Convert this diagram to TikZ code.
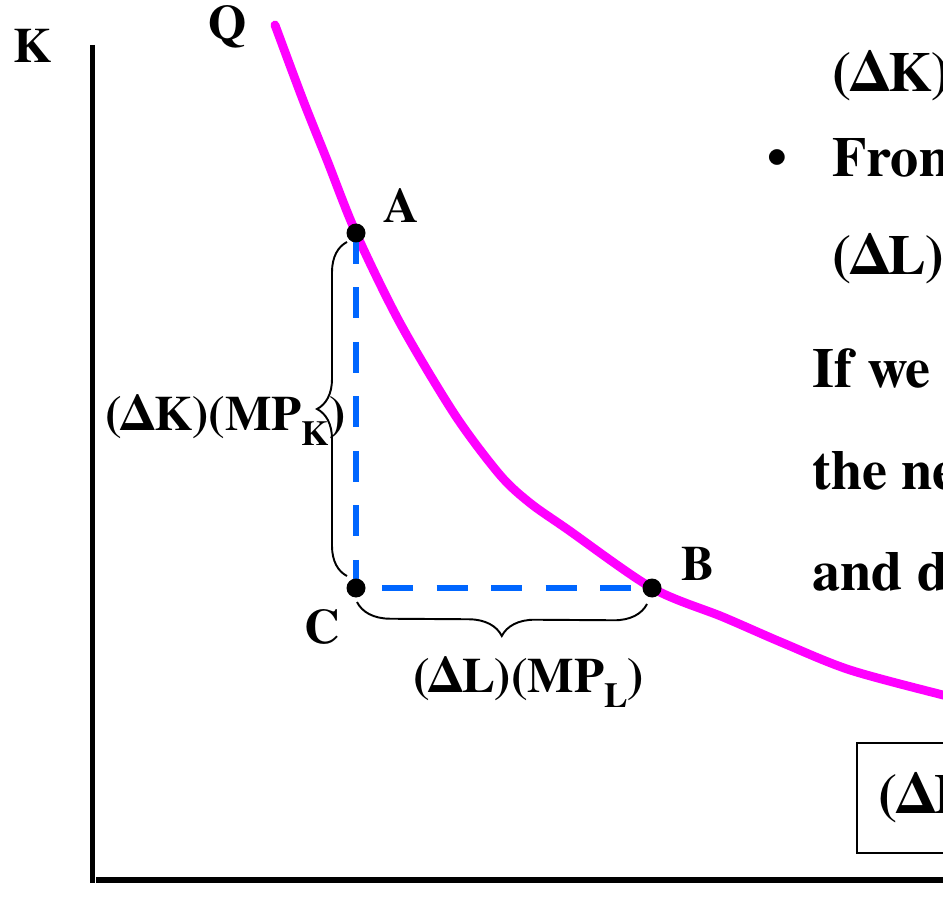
\documentclass[tikz,border=0pt]{standalone}
\usepackage{fontspec}
\setmainfont{texgyretermes}[Extension=.otf, UprightFont=*-regular, BoldFont=*-bold]
\usetikzlibrary{decorations.pathreplacing,calc}

\definecolor{kurvenfarbe}{RGB}{255,0,255}
\definecolor{strichfarbe}{RGB}{0,102,255}

\newcommand{\tief}[1]{\raisebox{-9pt}{\fontsize{20}{22}\selectfont #1}}

\tikzset{
  achse/.style={line width=3.1pt},
  lbl/.style={font=\rmfamily\bfseries\fontsize{28}{30}\selectfont, inner sep=0pt, anchor=base},
  txt/.style={font=\rmfamily\bfseries\fontsize{32}{36}\selectfont, inner sep=0pt, anchor=base west},
  punkt/.style={fill=black},
  klammer/.style={decorate, line width=1.1pt},
}

\begin{document}
\begin{tikzpicture}[x=0.02cm, y=-0.02cm]
    \useasboundingbox (0,0) rectangle (943,898);
    \clip (0,0) rectangle (943,898);
    % Achsen:
    \coordinate (ktop) at (92.5,45);
    \coordinate (ursprung) at (92.5,883);
    \coordinate (lstart) at (96,880);
    \coordinate (lend) at (960,880);
    \draw[achse, line width=2.9pt] (ktop) -- (ursprung); % K-Achse
    \draw[achse, line width=3.4pt] (lstart) -- (lend); % L-Achse
    \node[lbl] (k) at (33,63) {K};
    % Isoquante:
    \draw[kurvenfarbe, line width=5pt, line cap=round] plot[smooth, tension=0.5] coordinates
        {(275,25) (303,100) (327,160) (356,233) (400,323) (455,415)
         (500,475) (530,503) (567,529) (652,588) (723,617) (783,643)
         (850,670) (943,695) (970,701)};
    \node[lbl] (q) at (228,40) {Q};
    % Punkte:
    \coordinate (A) at (356,233);
    \coordinate (B) at (652,588);
    \coordinate (C) at (A |- B);
    \draw[strichfarbe, line width=3.7pt, dash pattern=on 17.6pt off 13.4pt] (A) -- (C) -- (B);
    \fill[punkt] (A) circle[radius=0.19cm];
    \fill[punkt] (B) circle[radius=0.19cm];
    \fill[punkt] (C) circle[radius=0.19cm];
    \node[lbl] (a) at (401,223) {A};
    \node[lbl] (b) at (698,580) {B};
    \node[lbl] (c) at (322,643) {C};
    % Klammern:
    \draw[klammer, decoration={brace, amplitude=0.6cm}] ($(C)+(-9,-12)$) -- ($(A)+(-9,9)$);
    \draw[klammer, decoration={brace, amplitude=0.66cm}] ($(B)+(-5,16)$) -- ($(C)+(1,14)$);
    \node[lbl, anchor=base west] (dk) at (105,430) {(ΔK)(MP\tief{K})};
    \node[lbl, anchor=base west] (dl) at (413,692) {(ΔL)(MP\tief{L})};
    % Text rechts:
    \node[txt] (z1) at (832,92) {(ΔK)};
    \node[txt] (pkt) at (767,177) {•};
    \node[txt] (z2) at (832,177) {From};
    \node[txt] (z3) at (832,275) {(ΔL)};
    \node[txt] (z4) at (812,388) {If we};
    \node[txt] (z5) at (812,489) {the ne};
    \node[txt] (z6) at (812,590) {and d};
    % Kasten:
    \draw[line width=1.2pt] (857,743) rectangle (990,853);
    \node[txt] (z7) at (878,813) {(ΔL)};
\end{tikzpicture}
\end{document}
